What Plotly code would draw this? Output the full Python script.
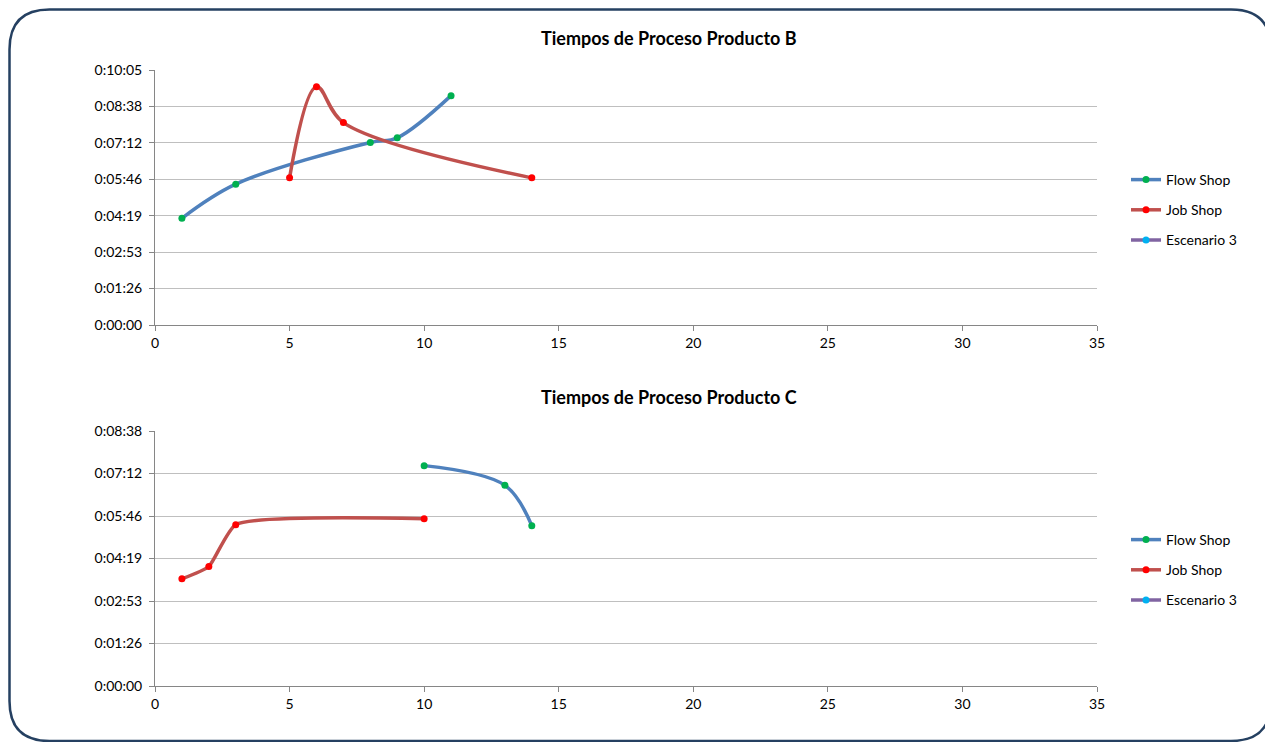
import plotly.graph_objects as go

# ---- data (seconds) ----
b_flow_x = [1, 3, 8, 9, 11]
b_flow_y = [253, 334, 433, 444, 544]
b_job_x = [5, 6, 7, 14]
b_job_y = [349, 565, 480, 349]

c_flow_x = [10, 13, 14]
c_flow_y = [448, 408, 326]
c_job_x = [1, 2, 3, 10]
c_job_y = [218, 243, 328, 340]

esc3_x = [None]
esc3_y = [None]

series_names = ["Flow Shop", "Job Shop", "Escenario 3"]
top_ticklabels = ["0:00:00", "0:01:26", "0:02:53", "0:04:19", "0:05:46", "0:07:12", "0:08:38", "0:10:05"]
bot_ticklabels = ["0:00:00", "0:01:26", "0:02:53", "0:04:19", "0:05:46", "0:07:12", "0:08:38"]
x_ticks = [0, 5, 10, 15, 20, 25, 30, 35]
titles = ["Tiempos de Proceso Producto B", "Tiempos de Proceso Producto C"]

STEP = 86.4  # one thousandth of a day
OFF = 8  # page body margin
W, H = 1273 - OFF, 742 - OFF
FONT = "Lato"

line_colors = ["#4F81BD", "#C0504D", "#8064A2"]
marker_colors = ["#00B050", "#FF0000", "#00B0F0"]

fig = go.Figure()

def px_x(p):
    return (p - OFF) / W

def px_y(p):
    return 1 - (p - OFF) / H

panels = [
    dict(xa="x", ya="y", legend="legend",
         data=[(b_flow_x, b_flow_y), (b_job_x, b_job_y), (esc3_x, esc3_y)],
         smooth=[1, 1, 1]),
    dict(xa="x2", ya="y2", legend="legend2",
         data=[(c_flow_x, c_flow_y), (c_job_x, c_job_y), (esc3_x, esc3_y)],
         smooth=[1, 0.5, 1]),
]

for pi, p in enumerate(panels):
    for si, (xs, ys) in enumerate(p["data"]):
        fig.add_trace(go.Scatter(
            x=xs, y=ys, mode="lines+markers", name=series_names[si],
            xaxis=p["xa"], yaxis=p["ya"], legend=p["legend"],
            legendgroup=f"g{pi}{si}", showlegend=True,
            line=dict(color=line_colors[si], width=3.5, shape="spline", smoothing=p["smooth"][si]),
            marker=dict(color=marker_colors[si], size=7),
        ))

xdom = [px_x(155), px_x(1097)]
axis_common = dict(showline=True, linecolor="#868686", linewidth=1, ticks="outside",
                   tickcolor="#868686", ticklen=5, tickfont=dict(family=FONT, size=14, color="#000000"),
                   zeroline=False)

fig.update_layout(
    width=W, height=H,
    margin=dict(l=0, r=0, t=0, b=0, autoexpand=False),
    paper_bgcolor="white", plot_bgcolor="white",
    font=dict(family=FONT, size=14, color="#000000"),
    xaxis=dict(domain=xdom, range=[0, 35], tickvals=x_ticks, showgrid=False, anchor="y", **axis_common),
    yaxis=dict(domain=[px_y(325), px_y(70)], range=[0, STEP * (len(top_ticklabels) - 1)],
               tickvals=[i * STEP for i in range(len(top_ticklabels))], ticktext=top_ticklabels,
               ticklabelstandoff=4,
               showgrid=True, gridcolor="#BFBFBF", gridwidth=1, anchor="x", **axis_common),
    xaxis2=dict(domain=xdom, range=[0, 35], tickvals=x_ticks, showgrid=False, anchor="y2", **axis_common),
    yaxis2=dict(domain=[px_y(686), px_y(431)], range=[0, STEP * (len(bot_ticklabels) - 1)],
                tickvals=[i * STEP for i in range(len(bot_ticklabels))], ticktext=bot_ticklabels,
                ticklabelstandoff=4,
                showgrid=True, gridcolor="#BFBFBF", gridwidth=1, anchor="x2", **axis_common),
    legend=dict(x=px_x(1126), y=px_y(164), xanchor="left", yanchor="top", tracegroupgap=9,
                itemwidth=30, font=dict(family=FONT, size=14), bgcolor="rgba(0,0,0,0)"),
    legend2=dict(x=px_x(1126), y=px_y(524), xanchor="left", yanchor="top", tracegroupgap=9,
                 itemwidth=30, font=dict(family=FONT, size=14), bgcolor="rgba(0,0,0,0)"),
    showlegend=True,
)

for t, yp in zip(titles, [38, 397]):
    fig.add_annotation(text=f"<b>{t}</b>", x=px_x(669), y=px_y(yp), xref="paper", yref="paper",
                       showarrow=False, xanchor="center", yanchor="middle",
                       font=dict(family=FONT, size=18, color="#000000"))

# rounded chart border
x0, x1, y0, y1 = px_x(9.5), px_x(1271), px_y(9.5), px_y(741)
r = 40
rx, ry = r / W, r / H
path = (f"M {x0+rx},{y0} L {x1-rx},{y0} Q {x1},{y0} {x1},{y0-ry} "
        f"L {x1},{y1+ry} Q {x1},{y1} {x1-rx},{y1} L {x0+rx},{y1} Q {x0},{y1} {x0},{y1+ry} "
        f"L {x0},{y0-ry} Q {x0},{y0} {x0+rx},{y0} Z")
fig.add_shape(type="path", path=path, xref="paper", yref="paper",
              line=dict(color="#254061", width=2.5), fillcolor="rgba(0,0,0,0)", layer="above")

fig.write_html("out.html")
